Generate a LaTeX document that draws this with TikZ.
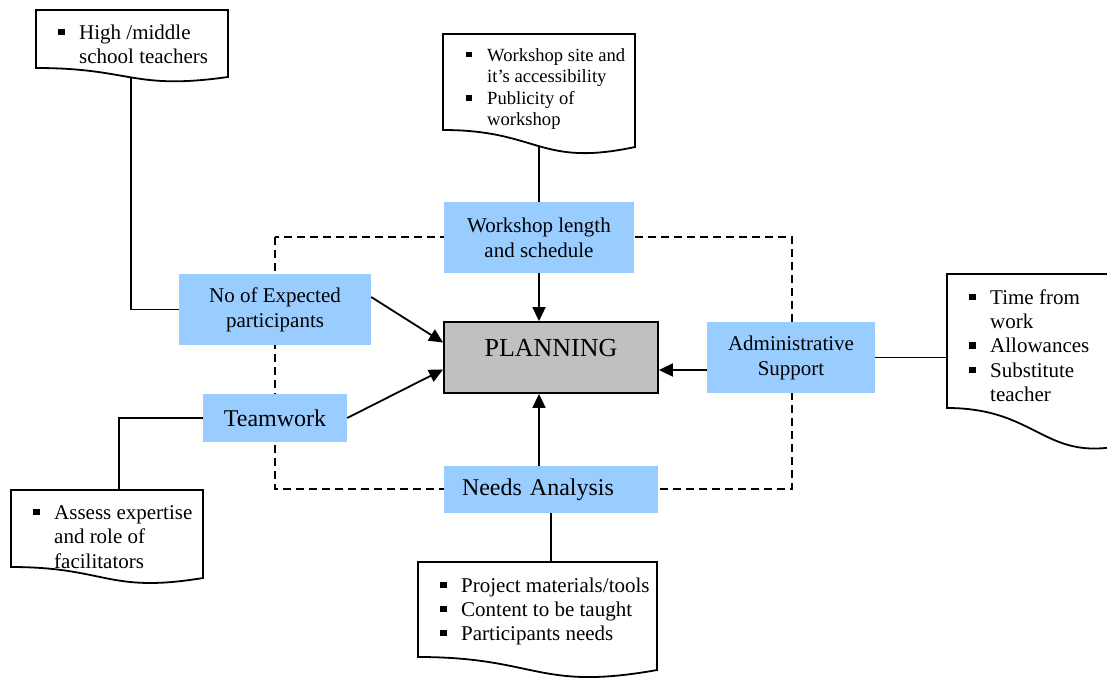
\documentclass[tikz,border=0pt]{standalone}
\usepackage{fontspec}
\setmainfont{Liberation Serif}
\usetikzlibrary{shapes,arrows,arrows.meta,positioning,calc}
\definecolor{skyblue}{HTML}{99CCFF}
\definecolor{planbg}{HTML}{C0C0C0}
\newcommand{\docbul}{\makebox[21pt][l]{\rule[0.2em]{0.3em}{0.3em}}}
\newcommand{\docind}{\hspace*{21pt}}

\begin{document}
\begin{tikzpicture}[x=1pt,y=-1pt,
	factor/.style={fill=skyblue, inner sep=0pt, align=center, font=\fontsize{21}{25}\selectfont},
	doc/.style={draw, line width=1.8pt, fill=white},
	doctext/.style={anchor=north west, inner sep=0pt, align=left, font=\fontsize{21}{24.2}\selectfont},
	link/.style={line width=1.8pt},
	arr/.style={line width=1.8pt, -{Triangle[length=14pt,width=13pt]}}]
	\useasboundingbox (0,0) rectangle (1107,679);

	% dashed frame
	\draw[line width=1.6pt, dash pattern=on 8pt off 5pt] (275,237) rectangle (792,489);

	% factors
	\node[factor, minimum width=190pt, minimum height=71pt] (length) at (539,237.5) {Workshop length\\and schedule};
	\node[factor, minimum width=192pt, minimum height=71pt] (expected) at (275,309.5) {No of Expected\\participants};
	\node[factor, minimum width=144pt, minimum height=48pt, font=\fontsize{24}{28}\selectfont] (team) at (275,418) {Teamwork};
	\node[factor, minimum width=214pt, minimum height=47pt, text width=178pt, inner xsep=18pt, align=left, font=\fontsize{24}{28}\selectfont] (needs) at (551,489.5) {Needs Analysis};
	\node[factor, minimum width=168pt, minimum height=71pt] (admin) at (791,357.5) {Administrative\\Support};
	\node[draw, line width=1.8pt, fill=planbg, minimum width=214pt, minimum height=71pt, text height=18pt, text depth=20pt, inner sep=0pt, font=\fontsize{26}{30}\selectfont] (plan) at (551,357.5) {PLANNING};

	% connector ends (hidden under the documents)
	\coordinate (teachersEnd) at (131,70);
	\coordinate (siteEnd) at (539,140);
	\coordinate (supportEnd) at (960,357.5);
	\coordinate (facilEnd) at (119,500);
	\coordinate (needsEnd) at (551,575);

	\draw[link] (teachersEnd) |- (expected.west);
	\draw[link] (siteEnd) -- (length.north);
	\draw[link] (admin.east) -- (supportEnd);
	\draw[link] (team.west) -| (facilEnd);
	\draw[link] (needs.south) -- (needsEnd);

	% documents
	\draw[doc] (36,10) -- (228,10) -- (228,77) .. controls (132,90.5) and (132,68) .. (36,68) -- cycle;
	\draw[doc] (443,34) -- (635,34) -- (635,147) .. controls (539,167.5) and (539,130) .. (443,130) -- cycle;
	\draw[doc] (947,274) -- (1142,274) -- (1142,440) .. controls (1044.5,470.9) and (1044.5,408) .. (947,408) -- cycle;
	\draw[doc] (11,490) -- (203,490) -- (203,578) .. controls (107,593.8) and (107,567) .. (11,567) -- cycle;
	\draw[doc] (418,562) -- (657,562) -- (657,670) .. controls (537.5,691.5) and (537.5,657) .. (418,657) -- cycle;

	\node[doctext] (teachers) at (58,24.5) {\docbul High /middle\\\docind school teachers};
	\node[doctext, font=\fontsize{18.6}{21.6}\selectfont] (site) at (466,48) {\docbul Workshop site and\\\docind it's accessibility\\\docbul Publicity of\\\docind workshop};
	\node[doctext] (support) at (969,289.5) {\docbul Time from\\\docind work\\\docbul Allowances\\\docbul Substitute\\\docind teacher};
	\node[doctext] (facil) at (33,505.5) {\docbul Assess expertise\\\docind and role of\\\docind facilitators};
	\node[doctext, font=\fontsize{21}{24}\selectfont] (needlist) at (440,577.5) {\docbul Project materials/tools\\\docbul Content to be taught\\\docbul Participants needs};

	% arrows into planning
	\draw[arr] (length.south) -- (length.south |- plan.north);
	\draw[arr] (length.south |- needs.north) -- (length.south |- plan.south);
	\draw[arr] ($(expected.east)+(0,-12.5)$) -- ($(plan.west)+(0,-15)$);
	\draw[arr] (team.east) -- ($(plan.west)+(0,12)$);
	\draw[arr] ($(admin.west)+(0,12.5)$) -- ($(plan.east)+(0,12.5)$);
\end{tikzpicture}
\end{document}
